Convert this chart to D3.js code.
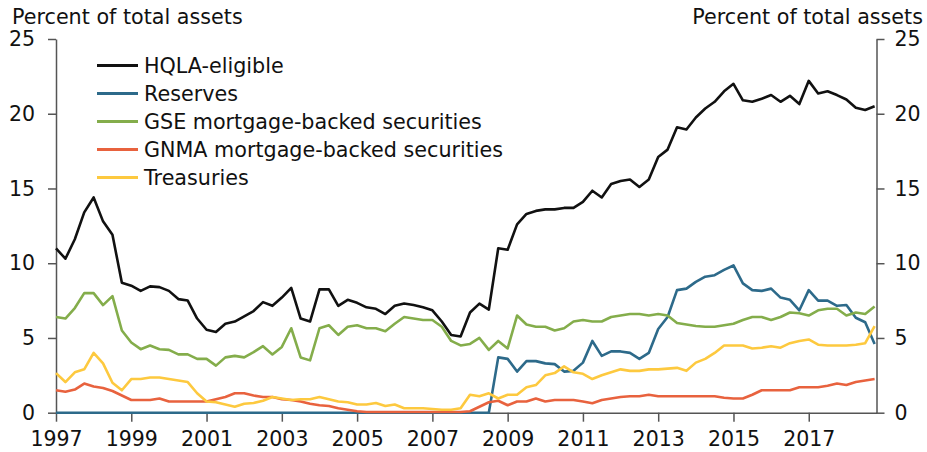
<!DOCTYPE html>
<html>
<head>
<meta charset="utf-8">
<script src="https://cdnjs.cloudflare.com/ajax/libs/d3/7.8.5/d3.min.js"></script>
<style>
  body { margin: 0; background: #fff; }
  svg text { font-family: "DejaVu Sans", Verdana, sans-serif; fill: #111; }
</style>
</head>
<body>
<div id="svgContainer"></div>
<script>
var width = 927;
var height = 452;

// quarterly data, 1997Q1 .. 2018Q4
var startYear = 1997;
var tickYears = [1997, 1999, 2001, 2003, 2005, 2007, 2009, 2011, 2013, 2015, 2017];
var yTicks = [0, 5, 10, 15, 20, 25];

var hqla = [11.0, 10.3, 11.6, 13.4, 14.4, 12.8, 11.9, 8.7, 8.5, 8.15, 8.45, 8.4, 8.15, 7.6, 7.5, 6.3,
  5.55, 5.4, 5.95, 6.1, 6.45, 6.8, 7.4, 7.15, 7.7, 8.35, 6.3, 6.1, 8.25, 8.25, 7.15, 7.55,
  7.35, 7.05, 6.95, 6.6, 7.15, 7.3, 7.2, 7.05, 6.85, 6.1, 5.2, 5.1, 6.7, 7.3, 6.9, 11.0,
  10.9, 12.6, 13.3, 13.5, 13.6, 13.6, 13.7, 13.7, 14.1, 14.85, 14.4, 15.3, 15.5, 15.6, 15.1, 15.6,
  17.1, 17.6, 19.1, 18.95, 19.75, 20.35, 20.8, 21.5, 22.0, 20.9, 20.8, 21.0, 21.25, 20.8, 21.2, 20.65,
  22.2, 21.35, 21.5, 21.25, 20.95, 20.4, 20.25, 20.5];

var reserves = [0, 0, 0, 0, 0, 0, 0, 0, 0, 0, 0, 0, 0, 0, 0, 0,
  0, 0, 0, 0, 0, 0, 0, 0, 0, 0, 0, 0, 0, 0, 0, 0,
  0, 0, 0, 0, 0, 0, 0, 0, 0, 0, 0, 0, 0, 0, 0, 3.7,
  3.6, 2.75, 3.45, 3.45, 3.3, 3.25, 2.75, 2.8, 3.35, 4.8, 3.8, 4.1, 4.1, 4.0, 3.6, 4.0,
  5.6, 6.4, 8.2, 8.3, 8.75, 9.1, 9.2, 9.55, 9.85, 8.65, 8.2, 8.15, 8.3, 7.7, 7.55, 6.85,
  8.2, 7.5, 7.5, 7.15, 7.2, 6.35, 6.05, 4.6];

var gseMbs = [6.4, 6.3, 7.0, 8.0, 8.0, 7.2, 7.8, 5.5, 4.7, 4.25, 4.5, 4.25, 4.2, 3.9, 3.9, 3.6,
  3.6, 3.15, 3.7, 3.8, 3.7, 4.05, 4.45, 3.9, 4.4, 5.65, 3.7, 3.5, 5.65, 5.85, 5.2, 5.75,
  5.85, 5.65, 5.65, 5.45, 5.95, 6.4, 6.3, 6.2, 6.2, 5.75, 4.8, 4.5, 4.6, 5.0, 4.2, 4.8,
  4.3, 6.5, 5.9, 5.75, 5.75, 5.5, 5.65, 6.1, 6.2, 6.1, 6.1, 6.4, 6.5, 6.6, 6.6, 6.5,
  6.6, 6.5, 6.0, 5.9, 5.8, 5.75, 5.75, 5.85, 5.95, 6.2, 6.4, 6.4, 6.2, 6.4, 6.7, 6.65,
  6.5, 6.85, 6.95, 6.95, 6.5, 6.7, 6.6, 7.1];

var gnmaMbs = [1.5, 1.4, 1.55, 1.95, 1.75, 1.65, 1.45, 1.15, 0.85, 0.85, 0.85, 0.95, 0.75, 0.75, 0.75, 0.75,
  0.75, 0.9, 1.05, 1.3, 1.3, 1.15, 1.05, 1.05, 0.9, 0.85, 0.75, 0.6, 0.5, 0.45, 0.3, 0.2,
  0.1, 0.05, 0.05, 0.05, 0.05, 0.05, 0.05, 0.05, 0.05, 0.05, 0.05, 0.05, 0.1, 0.4, 0.7, 0.8,
  0.5, 0.75, 0.75, 0.95, 0.75, 0.85, 0.85, 0.85, 0.75, 0.63, 0.85, 0.95, 1.05, 1.1, 1.1, 1.2,
  1.1, 1.1, 1.1, 1.1, 1.1, 1.1, 1.1, 1.0, 0.95, 0.95, 1.2, 1.5, 1.5, 1.5, 1.5, 1.7,
  1.7, 1.7, 1.8, 1.95, 1.85, 2.05, 2.15, 2.25];

var treasuries = [2.65, 2.05, 2.7, 2.9, 4.0, 3.3, 2.0, 1.5, 2.25, 2.25, 2.35, 2.35, 2.25, 2.15, 2.05, 1.3,
  0.75, 0.7, 0.55, 0.4, 0.6, 0.65, 0.8, 1.05, 0.95, 0.85, 0.9, 0.9, 1.05, 0.9, 0.75, 0.7,
  0.55, 0.55, 0.65, 0.45, 0.55, 0.3, 0.3, 0.3, 0.25, 0.2, 0.2, 0.3, 1.2, 1.1, 1.3, 0.95,
  1.2, 1.2, 1.7, 1.85, 2.5, 2.65, 3.1, 2.7, 2.6, 2.25, 2.5, 2.7, 2.9, 2.8, 2.8, 2.9,
  2.9, 2.95, 3.0, 2.8, 3.35, 3.6, 4.0, 4.5, 4.5, 4.5, 4.3, 4.35, 4.45, 4.35, 4.65, 4.8,
  4.9, 4.55, 4.5, 4.5, 4.5, 4.55, 4.65, 5.8];

var seriesNames = ["HQLA-eligible", "Reserves", "GSE mortgage-backed securities",
  "GNMA mortgage-backed securities", "Treasuries"];
var seriesColors = ["#111111", "#2d6a8a", "#84ad4b", "#e8623e", "#fdc93f"];
var seriesData = [hqla, reserves, gseMbs, gnmaMbs, treasuries];

var margin = { left: 56, right: 876.5, top: 39, bottom: 412.7 };
var axisColor = "#555";

var svg = d3.select("#svgContainer")
  .append("svg")
  .attr("width", width)
  .attr("height", height);

var x = d3.scaleLinear()
  .domain([startYear, 2018.8])
  .range([margin.left, margin.right]);

var y = d3.scaleLinear()
  .domain([0, 25])
  .range([margin.bottom, margin.top]);

// quarter index -> fractional year
function qx(i) {
  return x(startYear + i / 4);
}

// bottom axis
var xAxis = d3.axisBottom(x)
  .tickValues(tickYears)
  .tickFormat(d3.format("d"))
  .tickSizeInner(9)
  .tickSizeOuter(0)
  .tickPadding(10);

var gx = svg.append("g")
  .attr("transform", "translate(0," + margin.bottom + ")")
  .call(xAxis);
gx.select(".domain").attr("stroke", axisColor).attr("stroke-width", 1.5);
gx.selectAll(".tick line").attr("stroke", axisColor).attr("stroke-width", 1.5);
gx.selectAll(".tick text")
  .attr("fill", "#111")
  .style("font-size", "20.5px")
  .attr("dy", "0.71em");

// left + right axes
var yLeft = d3.axisLeft(y).tickValues(yTicks).tickSizeInner(8).tickSizeOuter(0).tickPadding(13);
var yRight = d3.axisRight(y).tickValues(yTicks).tickSizeInner(8).tickSizeOuter(0).tickPadding(10);

var gl = svg.append("g")
  .attr("transform", "translate(" + margin.left + ",0)")
  .call(yLeft);
var gr = svg.append("g")
  .attr("transform", "translate(" + margin.right + ",0)")
  .call(yRight);

[gl, gr].forEach(function (g) {
  g.select(".domain").attr("stroke", axisColor).attr("stroke-width", 1.5);
  g.selectAll(".tick line").attr("stroke", axisColor).attr("stroke-width", 1.5);
  g.selectAll(".tick text")
    .attr("fill", "#111")
    .style("font-size", "20.5px");
});
svg.selectAll("g").attr("font-family", null).attr("font-size", null);

// unit labels (nudged up a bit so they don't sit on the "25")
svg.append("text")
  .attr("x", 12)
  .attr("y", 24)
  .style("font-size", "20.7px")
  .text("Percent of total assets");

svg.append("text")
  .attr("x", 923)
  .attr("y", 24)
  .attr("text-anchor", "end")
  .style("font-size", "20.7px")
  .text("Percent of total assets");

// lines, drawn in legend order
var line = d3.line()
  .x(function (d, i) { return qx(i); })
  .y(function (d) { return y(d); });

svg.selectAll("path.series")
  .data(seriesData)
  .enter()
  .append("path")
  .attr("class", "series")
  .attr("d", line)
  .attr("fill", "none")
  .attr("stroke", function (d, i) { return seriesColors[i]; })
  .attr("stroke-width", 2.6)
  .attr("stroke-linejoin", "round");

// legend
var legend = svg.append("g");
var legendTop = 65.5;
var legendStep = 28;

legend.selectAll("line")
  .data(seriesNames)
  .enter()
  .append("line")
  .attr("x1", 97)
  .attr("x2", 138)
  .attr("y1", function (d, i) { return legendTop + i * legendStep; })
  .attr("y2", function (d, i) { return legendTop + i * legendStep; })
  .attr("stroke", function (d, i) { return seriesColors[i]; })
  .attr("stroke-width", 3);

legend.selectAll("text")
  .data(seriesNames)
  .enter()
  .append("text")
  .attr("x", 144)
  .attr("y", function (d, i) { return legendTop + i * legendStep + 7.8; })
  .style("font-size", "20.7px")
  .text(function (d) { return d; });
</script>
</body>
</html>
